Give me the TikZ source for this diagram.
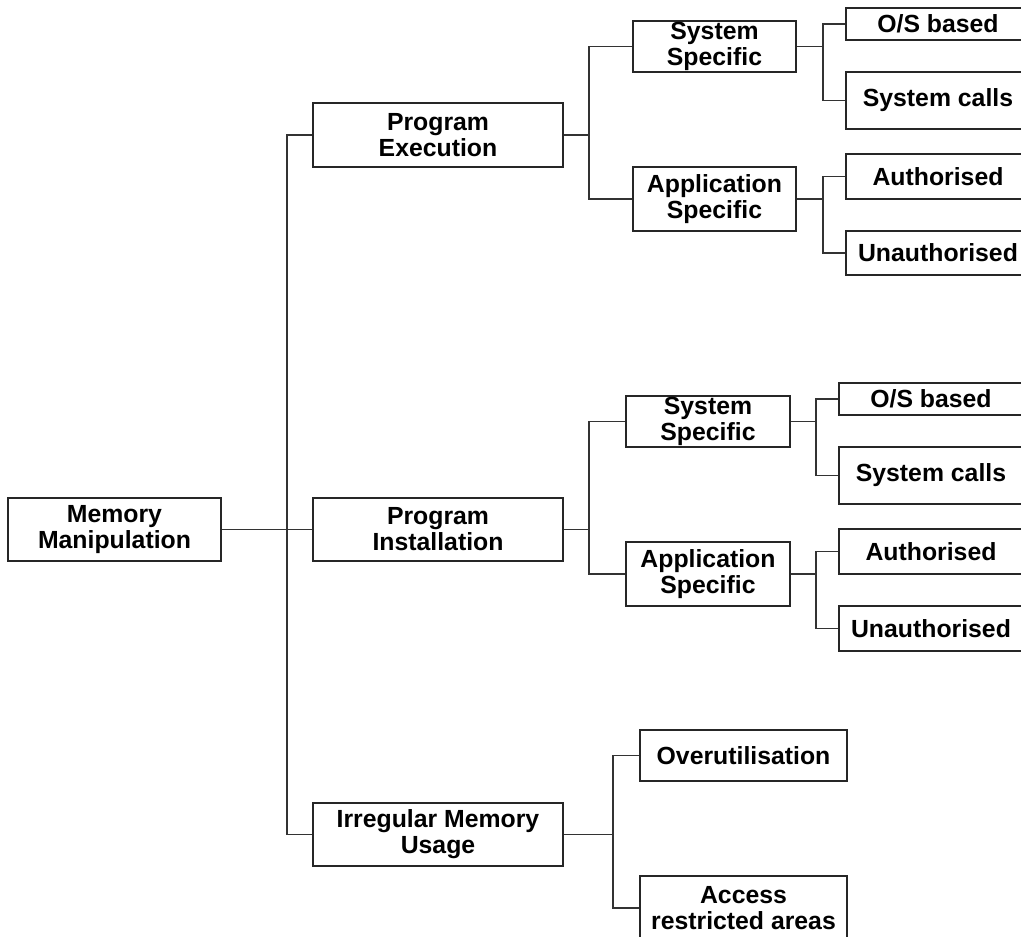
\documentclass[tikz,border=0pt]{standalone}
\usepackage{fontspec}
\setmainfont{Liberation Sans}
\begin{document}
\begin{tikzpicture}[x=1pt, y=-1pt,
  box/.style={draw=black!85, line width=1.3pt, fill=white, inner sep=0pt,
    align=center, font=\fontsize{24.8}{26}\selectfont\bfseries},
  link/.style={draw=black!80, line width=1.4pt}]
\useasboundingbox (0,0) rectangle (1021,937);
\clip (0,0) rectangle (1021,937);

% level 0 and 1
\node[box, minimum width=213pt, minimum height=63pt] (mm) at (114.5,529.5) {Memory\\Manipulation};
\node[box, minimum width=250pt, minimum height=64pt] (pe) at (438,135) {Program\\Execution};
\node[box, minimum width=250pt, minimum height=63pt] (pi) at (438,529.5) {Program\\Installation};
\node[box, minimum width=250pt, minimum height=63pt] (im) at (438,834.5) {Irregular Memory\\Usage};

% execution branch
\node[box, minimum width=163pt, minimum height=51pt] (ss1) at (714.5,46.5) {System\\Specific};
\node[box, minimum width=163pt, minimum height=64pt] (as1) at (714.5,199) {Application\\Specific};
\node[box, minimum width=184pt, minimum height=32pt] (os1) at (938,24) {O/S based};
\node[box, minimum width=184pt, minimum height=57pt] (sc1) at (938,100.5) {System calls};
\node[box, minimum width=184pt, minimum height=45pt] (au1) at (938,176.5) {Authorised};
\node[box, minimum width=184pt, minimum height=44pt] (un1) at (938,253) {Unauthorised};

% installation branch
\node[box, minimum width=164pt, minimum height=51pt] (ss2) at (708,421.5) {System\\Specific};
\node[box, minimum width=164pt, minimum height=64pt] (as2) at (708,574) {Application\\Specific};
\node[box, minimum width=184pt, minimum height=32pt] (os2) at (931,399) {O/S based};
\node[box, minimum width=184pt, minimum height=57pt] (sc2) at (931,475.5) {System calls};
\node[box, minimum width=184pt, minimum height=45pt] (au2) at (931,551.5) {Authorised};
\node[box, minimum width=184pt, minimum height=45pt] (un2) at (931,628.5) {Unauthorised};

% irregular usage branch
\node[box, minimum width=207pt, minimum height=51pt] (ov) at (743.5,755.5) {Overutilisation};
\node[box, minimum width=207pt, minimum height=64pt] (ac) at (743.5,908) {Access\\restricted areas};

% fork points
\coordinate (t0) at (287,529.5);
\coordinate (f1) at (589,135);
\coordinate (f2) at (589,529.5);
\coordinate (f3) at (613,834.5);
\coordinate (g1) at (823,46.5);
\coordinate (g2) at (823,199);
\coordinate (g3) at (816,421.5);
\coordinate (g4) at (816,574);

% connectors
\draw[link] (mm.east) -- (pi.west);
\draw[link] (pe.west) -| (t0) |- (im.west);

\draw[link] (pe.east) -- (f1);
\draw[link] (ss1.west) -| (f1) |- (as1.west);
\draw[link] (ss1.east) -- (g1);
\draw[link] (os1.west) -| (g1) |- (sc1.west);
\draw[link] (as1.east) -- (g2);
\draw[link] (au1.west) -| (g2) |- (un1.west);

\draw[link] (pi.east) -- (f2);
\draw[link] (ss2.west) -| (f2) |- (as2.west);
\draw[link] (ss2.east) -- (g3);
\draw[link] (os2.west) -| (g3) |- (sc2.west);
\draw[link] (as2.east) -- (g4);
\draw[link] (au2.west) -| (g4) |- (un2.west);

\draw[link] (im.east) -- (f3);
\draw[link] (ov.west) -| (f3) |- (ac.west);
\end{tikzpicture}
\end{document}
